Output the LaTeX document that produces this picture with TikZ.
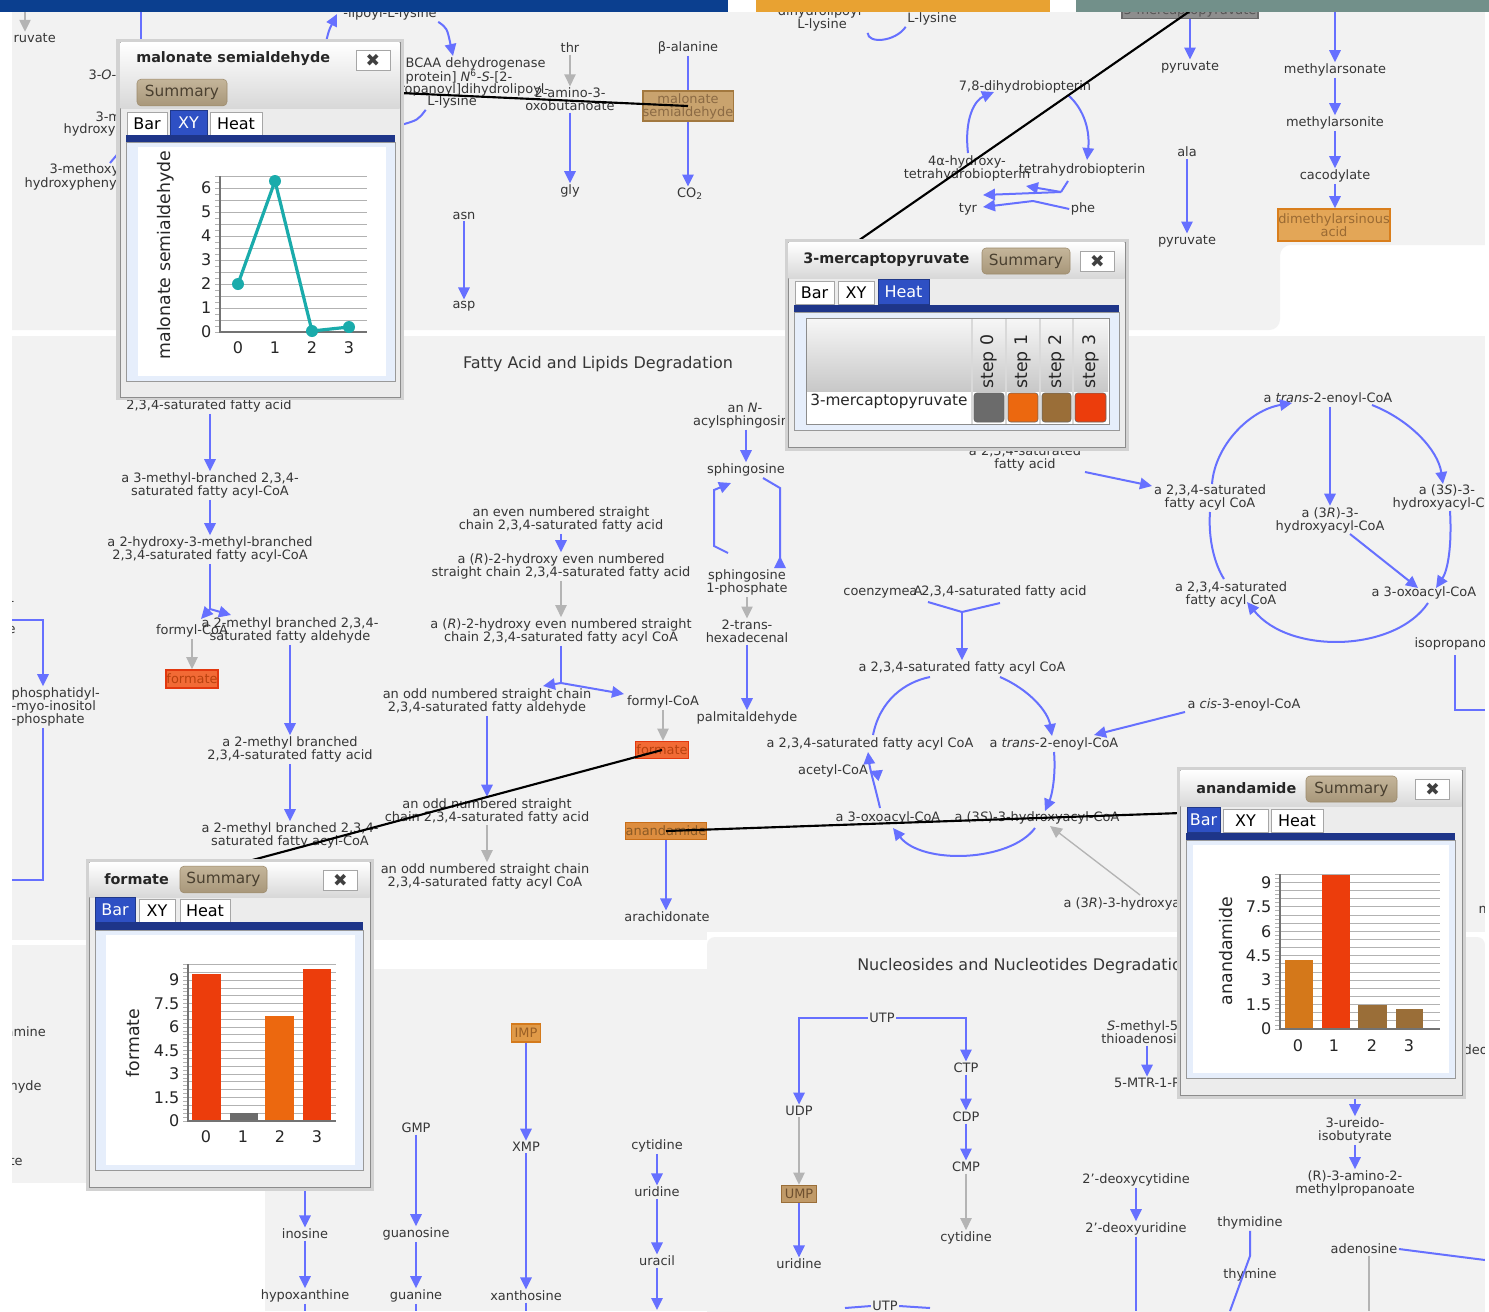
\documentclass[tikz,border=0pt]{standalone}
\usepackage{fontspec}
\setmainfont{DejaVu Sans}
\usetikzlibrary{arrows.meta}
\definecolor{bgc}{HTML}{F2F2F2}
\definecolor{blc}{HTML}{6670FF}
\definecolor{grc}{HTML}{B4B4B4}
\definecolor{labc}{HTML}{363636}
\definecolor{topblue}{HTML}{0B3F8F}
\definecolor{toporange}{HTML}{E8A232}
\definecolor{topgreen}{HTML}{72908A}
\definecolor{tabblue}{HTML}{2E50C4}
\definecolor{stripe}{HTML}{1E3589}
\definecolor{sumtop}{HTML}{C4B59A}
\definecolor{sumbot}{HTML}{A8977A}
\definecolor{sumbd}{HTML}{9C8A6C}
\definecolor{sumtxt}{HTML}{4A4030}
\definecolor{tealc}{HTML}{1AABAB}
\definecolor{cred}{HTML}{EC3D0C}
\definecolor{corange}{HTML}{EC680F}
\definecolor{cbrown}{HTML}{9A6E38}
\definecolor{cgrey}{HTML}{6B6B6B}
\definecolor{cochre}{HTML}{D4781A}
\definecolor{panelbg}{HTML}{ECECEC}
\definecolor{panelbd}{HTML}{8C8C8C}
\definecolor{shadowc}{HTML}{D2D2D2}
\definecolor{contbg}{HTML}{E6EEFB}
\definecolor{titlebot}{HTML}{D8D8D8}
\definecolor{tantxt}{HTML}{8B6A44}
\definecolor{tanfill}{HTML}{C9A36E}
\definecolor{tanbd}{HTML}{A2783F}
\definecolor{mptxt}{HTML}{555555}
\definecolor{mpfill}{HTML}{8E8E8E}
\definecolor{mpbd}{HTML}{6A6A6A}
\definecolor{dmatxt}{HTML}{9A6A33}
\definecolor{dmafill}{HTML}{E3A657}
\definecolor{dmabd}{HTML}{D97E1C}
\definecolor{fotxt}{HTML}{B8410F}
\definecolor{fofill}{HTML}{F26A35}
\definecolor{fobd}{HTML}{E2380F}
\definecolor{antxt}{HTML}{8B5A25}
\definecolor{anfill}{HTML}{DD8D3F}
\definecolor{anbd}{HTML}{C86E19}
\definecolor{umtxt}{HTML}{6E5030}
\definecolor{umfill}{HTML}{C09A68}
\definecolor{umbd}{HTML}{9A6E38}
\definecolor{imtxt}{HTML}{9A5F25}
\definecolor{imfill}{HTML}{E09A48}
\definecolor{imbd}{HTML}{D47A1C}
\definecolor{hdtop}{HTML}{F6F6F6}
\definecolor{hdbot}{HTML}{C8C8C8}
\begin{document}
\begin{tikzpicture}[x=0.75pt,y=-0.75pt,
 lab/.style={font=\fontsize{9.7}{9.75}\selectfont, text=labc, align=center, inner sep=1pt},
 arr/.style={draw=blc, line width=1.5pt, -{Triangle[length=9pt,width=8.5pt]}},
 rarr/.style={draw=blc, line width=1.5pt, -{Triangle[reversed,length=9pt,width=8.5pt]}},
 bll/.style={draw=blc, line width=1.5pt},
 garr/.style={draw=grc, line width=1pt, -{Triangle[length=9pt,width=8.5pt]}},
 gll/.style={draw=grc, line width=1pt},
 blk/.style={draw=black, line width=1.6pt},
 cbox/.style={lab, line width=1.2pt, inner sep=0pt},
 sectt/.style={font=\fontsize{12}{13}\selectfont, text=labc, inner sep=0pt},
 pttl/.style={font=\fontsize{10.8}{12}\selectfont\bfseries, text=black!85, inner sep=0pt, anchor=west},
 sumb/.style={font=\fontsize{11.5}{12}\selectfont, text=sumtxt, top color=sumtop, bottom color=sumbot, draw=sumbd, rounded corners=3pt, inner sep=0pt},
 closeb/.style={font=\fontsize{13}{14}\selectfont, text=black!75, fill=white, draw=black!35, inner sep=0pt, minimum width=25.5pt, minimum height=15pt},
 tabu/.style={font=\fontsize{12}{13}\selectfont, text=black, fill=white, draw=black!35, inner sep=0pt, minimum height=17.5pt},
 tabsel/.style={font=\fontsize{12}{13}\selectfont, text=white, fill=tabblue, draw=tabblue!70!black, inner sep=0pt, minimum height=19pt},
 dig/.style={font=\fontsize{12}{13}\selectfont, text=black!85, inner sep=1pt},
 axl/.style={font=\fontsize{13}{14}\selectfont, text=black!85, inner sep=0pt, rotate=90},
 gridc/.style={draw=black!30, line width=0.6pt},
 axisc/.style={draw=black!55, line width=0.8pt},
 hdr/.style={font=\fontsize{13}{14}\selectfont, text=black!85, inner sep=0pt, rotate=90, anchor=west},
 rowl/.style={font=\fontsize{11.5}{12}\selectfont, text=black!85, inner sep=0pt, anchor=west}
]
\useasboundingbox (0,0) rectangle (1489,1311);
\fill[white] (0,0) rectangle (1489,1311);
% ---------- background regions
\fill[bgc] (12,12) -- (1485,12) -- (1485,245) [rounded corners=8pt] -- (1280,245) -- (1280,330) [sharp corners] -- (12,330) -- cycle;
\fill[bgc] (12,336) rectangle (1485,932);
\fill[bgc] (12,932) rectangle (707,940);
\fill[bgc] (12,945) rectangle (300,1183);
\fill[bgc] (265,969) rectangle (710,1311);
\fill[bgc, rounded corners=6pt] (707,1320) -- (707,937) -- (1485,937) -- (1485,1320);

% ---------- top region
\node[lab, anchor=west] (truv) at (12,38) {ruvate};
\coordinate (ruvtop) at (25,12);
\draw[garr] (ruvtop) -- (ruvtop |- truv.north);
\coordinate (bv1) at (141,12); \coordinate (bv2) at (141,42);
\draw[bll] (bv1) -- (bv2);
\node[lab, anchor=west] (t3o) at (87,75) {3-\textit{O}-};
\node[lab, anchor=west] (t3m) at (94,117) {3-m};
\node[lab, anchor=west] (t3h) at (62,130) {hydroxy};
\node[lab, anchor=west] (t3me) at (48,170) {3-methoxy};
\node[lab, anchor=west] (t3hp) at (23,184) {hydroxypheny};
\coordinate (sm1) at (110,163); \coordinate (sm2) at (121,150);
\draw[bll] (sm1) -- (sm2);
\node[lab] (tlip) at (390,14) {-lipoyl-L-lysine};
\coordinate (lipa) at (326,42);
\draw[arr] (lipa) .. controls (329,30) .. (337,14);
\node[lab, anchor=west] (tb1) at (404,64) {BCAA dehydrogenase};
\node[lab, anchor=west] (tb2) at (404,77) {protein] \textit{N}\textsuperscript{6}-\textit{S}-[2-};
\node[lab, anchor=west] (tb3) at (398,90) {ropanoyl]dihydrolipoyl-};
\node[lab] (tb4) at (452,102) {L-lysine};
\draw[arr] (tlip.south east) .. controls (447,28) .. (453,56);
\coordinate (lysa) at (401,125);
\draw[bll] (lysa) .. controls (418,120) .. (tb4.south west);
\node[lab] (tthr) at (570,48) {thr};
\node[lab] (tami) at (570,99.5) {2-amino-3-\\oxobutanoate};
\node[lab] (tgly) at (570,191) {gly};
\draw[garr] (tthr.south) -- (tthr.south |- tami.north);
\draw[arr] (tami.south) -- (tami.south |- tgly.north);
\node[lab] (tbal) at (688,48) {β-alanine};
\node[cbox, text=tantxt, fill=tanfill, draw=tanbd, minimum width=66pt, minimum height=22.5pt] (nmal) at (688,106) {malonate\\semialdehyde};
\node[lab] (tco2) at (690,194) {CO\textsubscript{2}};
\draw[bll] (tbal.south) -- (tbal.south |- nmal.north);
\draw[arr] (nmal.south) -- (nmal.south |- tco2.north);
\node[lab] (tasn) at (464,216) {asn};
\node[lab] (tasp) at (464,306) {asp};
\draw[arr] (tasn.south) -- (tasn.south |- tasp.north);
\node[lab] (tdl) at (822,18.5) {dihydrolipoyl-\\L-lysine};
\node[lab] (tll) at (932,19) {L-lysine};
\draw[bll] (tdl.south east) .. controls (868,44) and (895,42) .. (tll.south west);
\node[cbox, text=mptxt, fill=mpfill, draw=mpbd, minimum width=102pt, minimum height=11.25pt] (nmpy) at (1190,11) {3-mercaptopyruvate};
\node[lab] (tpy1) at (1190,67) {pyruvate};
\draw[arr] (nmpy.south -| tpy1) -- (tpy1.north);
\node[lab] (tdhb) at (1025,87) {7,8-dihydrobiopterin};
\node[lab] (t4a) at (967,168.5) {4α-hydroxy-\\tetrahydrobiopterin};
\node[lab] (tthb) at (1082,170) {tetrahydrobiopterin};
\node[lab] (ttyr) at (968,209) {tyr};
\node[lab] (tphe) at (1083,209) {phe};
\draw[arr] (968,153) .. controls (964,118) and (975,100) .. (994,92);
\draw[arr] (1068,95) .. controls (1085,110) and (1090,132) .. (1087,160);
\coordinate (bj1) at (1061,192);
\coordinate (bj2) at (1033,201);
\draw[bll] (1068,181) -- (bj1);
\draw[arr] (bj1) -- (1026,186);
\draw[arr] (bj1) -- (983,195);
\draw[bll] (tphe.west) -- (bj2);
\draw[arr] (bj2) -- (983,207);
\node[lab] (tala) at (1187,152) {ala};
\node[lab] (tpy2) at (1187,241) {pyruvate};
\draw[arr] (tala.south) -- (tala.south |- tpy2.north);
\coordinate (masa) at (1335,12);
\node[lab] (tmas) at (1335,70) {methylarsonate};
\node[lab] (tmit) at (1335,123) {methylarsonite};
\node[lab] (tcac) at (1335,176) {cacodylate};
\node[cbox, text=dmatxt, fill=dmafill, draw=dmabd, minimum width=84pt, minimum height=24pt] (ndma) at (1334,225) {dimethylarsinous\\acid};
\draw[arr] (masa) -- (masa |- tmas.north);
\draw[arr] (tmas.south) -- (tmas.south |- tmit.north);
\draw[arr] (tmit.south) -- (tmit.south |- tcac.north);
\draw[arr] (tcac.south) -- (tcac.south |- ndma.north);

% ---------- fatty acid region
\node[sectt] (sec1) at (598,364) {Fatty Acid and Lipids Degradation};
\node[lab] (f1) at (209,406) {2,3,4-saturated fatty acid};
\node[lab] (f2) at (210,485.5) {a 3-methyl-branched 2,3,4-\\saturated fatty acyl-CoA};
\node[lab] (f3) at (210,549.5) {a 2-hydroxy-3-methyl-branched\\2,3,4-saturated fatty acyl-CoA};
\node[lab] (f4) at (192,631) {formyl-CoA};
\node[cbox, text=fotxt, fill=fofill, draw=fobd, minimum width=39pt, minimum height=13.5pt] (f5) at (192,679) {formate};
\node[lab] (f6) at (290,630.5) {a 2-methyl branched 2,3,4-\\saturated fatty aldehyde};
\node[lab] (f7) at (290,749.5) {a 2-methyl branched\\2,3,4-saturated fatty acid};
\node[lab] (f8) at (290,835.5) {a 2-methyl branched 2,3,4-\\saturated fatty acyl-CoA};
\draw[arr] (f1.south -| f2) -- (f2.north);
\draw[arr] (f2.south) -- (f3.north);
\coordinate (fj) at (210,609);
\draw[bll] (f3.south) -- (fj);
\draw[arr] (fj) -- (201,619);
\draw[arr] (fj) -- (231,615);
\draw[garr] (f4.south) -- (f4.south |- f5.north);
\draw[arr] (f6.south) -- (f6.south |- f7.north);
\draw[arr] (f7.south) -- (f7.south |- f8.north);
\node[lab, anchor=west] (lm1) at (8,603) {-};
\node[lab, anchor=west] (lm2) at (6,630) {e};
\node[lab, anchor=west, align=left] (lpi) at (10,707) {phosphatidyl-\\-myo-inositol\\-phosphate};
\coordinate (lp1) at (12,620); \coordinate (lp2) at (43,620);
\draw[arr] (lp1) -- (lp2) -- (lp2 |- lpi.north);
\coordinate (lp3) at (43,880); \coordinate (lp4) at (12,880);
\draw[bll] (lpi.south -| lp2) -- (lp3) -- (lp4);
\node[lab] (g1) at (561,519.5) {an even numbered straight\\chain 2,3,4-saturated fatty acid};
\node[lab] (g2) at (561,566.5) {a (\textit{R})-2-hydroxy even numbered\\straight chain 2,3,4-saturated fatty acid};
\node[lab] (g3) at (561,631.5) {a (\textit{R})-2-hydroxy even numbered straight\\chain 2,3,4-saturated fatty acyl CoA};
\node[lab] (g4) at (487,701.5) {an odd numbered straight chain\\2,3,4-saturated fatty aldehyde};
\node[lab] (g5) at (663,702) {formyl-CoA};
\node[cbox, text=fotxt, fill=fofill, draw=fobd, minimum width=39.75pt, minimum height=12.75pt] (g6) at (662,750) {formate};
\node[lab] (g7) at (487,811) {an odd numbered straight\\chain 2,3,4-saturated fatty acid};
\node[lab] (g8) at (485,876.5) {an odd numbered straight chain\\2,3,4-saturated fatty acyl CoA};
\node[cbox, text=antxt, fill=anfill, draw=anbd, minimum width=59.25pt, minimum height=12.75pt] (g9) at (666,831) {anandamide};
\node[lab] (g10) at (667,917) {arachidonate};
\draw[arr] (g1.south) -- (g2.north);
\draw[garr] (g2.south) -- (g3.north);
\coordinate (gj) at (561,683);
\draw[bll] (g3.south) -- (gj);
\draw[arr] (gj) -- (543,686);
\draw[arr] (gj) -- (624,694);
\draw[garr] (g5.south) -- (g5.south |- g6.north);
\draw[arr] (g4.south) -- (g4.south |- g7.north);
\draw[garr] (g7.south) -- (g7.south |- g8.north);
\draw[arr] (g9.south) -- (g9.south |- g10.north);
\node[lab] (s1) at (745,415.5) {an \textit{N}-\\acylsphingosine};
\node[lab] (s2) at (746,470) {sphingosine};
\node[lab] (s3) at (747,582.5) {sphingosine\\1-phosphate};
\node[lab] (s4) at (747,631.5) {2-trans-\\hexadecenal};
\node[lab] (s5) at (747,718) {palmitaldehyde};
\draw[arr] (s1.south -| s2) -- (s2.north);
\coordinate (sa) at (714,546); \coordinate (sb) at (714,490);
\coordinate (s3a) at (728,553);
\draw[arr] (s3a) -- (sa) -- (sb) -- (731,483);
\coordinate (sc) at (780,488); \coordinate (sd) at (780,568);
\coordinate (s2a) at (763,478);
\draw[rarr] (s2a) -- (sc) -- (sd);
\draw[garr] (s3.south) -- (s3.south |- s4.north);
\draw[arr] (s4.south) -- (s4.south |- s5.north);
\node[lab] (r1) at (1025,458.5) {a 2,3,4-saturated\\fatty acid};
\node[lab] (r2) at (1210,497.5) {a 2,3,4-saturated\\fatty acyl CoA};
\node[lab] (r3) at (1328,399) {a \textit{trans}-2-enoyl-CoA};
\node[lab] (r4) at (1447,497.5) {a (3\textit{S})-3-\\hydroxyacyl-CoA};
\node[lab] (r5) at (1330,520) {a (3\textit{R})-3-\\hydroxyacyl-CoA};
\node[lab] (r6) at (1231,594.5) {a 2,3,4-saturated\\fatty acyl CoA};
\node[lab, anchor=west] (r7) at (1370,593) {a 3-oxoacyl-CoA};
\node[lab, anchor=west] (r8) at (1413,644) {isopropanol};
\draw[arr] (1085,472) -- (1152,486);
\draw[arr] (1212,484) .. controls (1215,445) and (1250,410) .. (1292,403);
\draw[arr] (1372,405) .. controls (1410,420) and (1438,450) .. (1443,484);
\draw[arr] (r3.south -| r5) -- (r5.north);
\draw[arr] (1450,511) .. controls (1452,545) and (1448,570) .. (1436,588);
\draw[arr] (1350,534) -- (1418,588);
\draw[arr] (1428,603) .. controls (1395,652) and (1290,655) .. (1247,602);
\draw[bll] (1210,512) .. controls (1208,540) and (1215,565) .. (1224,579);
\coordinate (ip1) at (1455,655); \coordinate (ip2) at (1455,710); \coordinate (ip3) at (1485,710);
\draw[bll] (ip1) -- (ip2) -- (ip3);
\node[lab] (c1) at (883,592) {coenzyme A};
\node[lab] (c2) at (998,592) {a 2,3,4-saturated fatty acid};
\node[lab] (c3) at (962,668) {a 2,3,4-saturated fatty acyl CoA};
\node[lab] (c4) at (870,744) {a 2,3,4-saturated fatty acyl CoA};
\node[lab] (c5) at (1054,744) {a \textit{trans}-2-enoyl-CoA};
\node[lab] (c6) at (833,771) {acetyl-CoA};
\node[lab] (c7) at (888,818) {a 3-oxoacyl-CoA};
\node[lab] (c8) at (1037,818) {a (3\textit{S})-3-hydroxyacyl-CoA};
\node[lab] (c9) at (1244,705) {a \textit{cis}-3-enoyl-CoA};
\node[lab, anchor=west] (c10) at (1062,904) {a (3\textit{R})-3-hydroxyacyl-CoA};
\node[lab, anchor=west] (c11) at (1477,910) {m};
\coordinate (cj) at (962,612);
\draw[bll] (928,602) -- (cj) -- (1000,603);
\draw[arr] (cj) -- (c3.north);
\draw[arr] (1000,677) .. controls (1030,690) and (1048,712) .. (1052,736);
\draw[arr] (1054,752) .. controls (1056,775) and (1052,795) .. (1045,811);
\draw[arr] (1035,828) .. controls (1010,862) and (922,865) .. (893,828);
\draw[arr] (880,808) .. controls (876,790) and (870,770) .. (868,752);
\draw[arr] (872,772) -- (c6.east);
\draw[bll] (873,735) .. controls (880,700) and (905,682) .. (930,677);
\coordinate (c9a) at (1185,712);
\draw[arr] (c9a) -- (1094,735);
\coordinate (c10a) at (1140,895);
\draw[garr] (c10a) -- (1050,826);

% ---------- nucleosides region
\node[sectt, anchor=west] (sec2) at (857,966) {Nucleosides and Nucleotides Degradation};
\node[lab, anchor=west] (lx1) at (4,1032) {amine};
\node[lab, anchor=west] (lx2) at (8,1087) {hyde};
\node[lab, anchor=west] (lx3) at (8,1161) {te};
\node[lab] (u1) at (882,1018) {UTP};
\node[lab] (u2) at (799,1111) {UDP};
\node[cbox, text=umtxt, fill=umfill, draw=umbd, minimum width=26.25pt, minimum height=12.75pt] (u3) at (799,1194) {UMP};
\node[lab] (u4) at (799,1264) {uridine};
\node[lab] (u5) at (966,1068) {CTP};
\node[lab] (u6) at (966,1117) {CDP};
\node[lab] (u7) at (966,1167) {CMP};
\node[lab] (u8) at (966,1238) {cytidine};
\draw[arr] (u1.west) -| (u2.north);
\draw[arr] (u1.east) -| (u5.north);
\draw[garr] (u2.south) -- (u2.south |- u3.north);
\draw[arr] (u3.south) -- (u3.south |- u4.north);
\draw[arr] (u5.south) -- (u6.north);
\draw[arr] (u6.south) -- (u7.north);
\draw[garr] (u7.south) -- (u8.north);
\node[cbox, text=imtxt, fill=imfill, draw=imbd, minimum width=21.75pt, minimum height=13.5pt] (i1) at (526,1033) {IMP};
\node[lab] (i2) at (526,1147) {XMP};
\node[lab] (i3) at (526,1296) {xanthosine};
\draw[arr] (i1.south) -- (i2.north);
\draw[arr] (i2.south) -- (i3.north);
\coordinate (ie) at (526,1311);
\draw[bll] (i3.south) -- (ie);
\node[lab] (gm1) at (416,1128) {GMP};
\node[lab] (gm2) at (416,1234) {guanosine};
\node[lab] (gm3) at (416,1296) {guanine};
\draw[arr] (gm1.south) -- (gm2.north);
\draw[arr] (gm2.south) -- (gm3.north);
\coordinate (gme) at (416,1311);
\draw[bll] (gm3.south) -- (gme);
\coordinate (ins0) at (305,1187);
\node[lab] (in1) at (305,1234) {inosine};
\node[lab] (in2) at (305,1296) {hypoxanthine};
\draw[arr] (ins0) -- (in1.north);
\draw[arr] (in1.south) -- (in2.north);
\coordinate (ine) at (305,1311);
\draw[bll] (in2.south) -- (ine);
\node[lab] (cy1) at (657,1146) {cytidine};
\node[lab] (cy2) at (657,1192) {uridine};
\node[lab] (cy3) at (657,1261) {uracil};
\draw[arr] (cy1.south) -- (cy2.north);
\draw[arr] (cy2.south) -- (cy3.north);
\coordinate (cye) at (657,1310);
\draw[arr] (cy3.south) -- (cye);
\node[lab] (m1) at (1147,1032.5) {\textit{S}-methyl-5'-\\thioadenosine};
\node[lab] (m2) at (1147,1083) {5-MTR-1-P};
\draw[arr] (m1.south) -- (m2.north);
\coordinate (ur0) at (1355,1095);
\node[lab] (ur1) at (1355,1130.5) {3-ureido-\\isobutyrate};
\node[lab] (ur2) at (1355,1183.5) {(R)-3-amino-2-\\methylpropanoate};
\draw[arr] (ur0) -- (ur1.north);
\draw[arr] (ur1.south) -- (ur2.north);
\node[lab] (d1) at (1136,1180) {2'-deoxycytidine};
\node[lab] (d2) at (1136,1229) {2'-deoxyuridine};
\draw[arr] (d1.south) -- (d2.north);
\coordinate (de) at (1136,1311);
\draw[bll] (d2.south) -- (de);
\node[lab] (th1) at (1250,1223) {thymidine};
\node[lab] (th2) at (1250,1275) {thymine};
\coordinate (tha) at (1250,1256); \coordinate (thb) at (1230,1311);
\draw[bll] (th1.south) -- (tha) -- (thb);
\node[lab] (ad) at (1364,1249) {adenosine};
\coordinate (ada) at (1430,1253); \coordinate (adb) at (1485,1260);
\draw[bll] (ad.east) -- (ada) -- (adb);
\coordinate (adc) at (1369,1311);
\draw[gll] (ad.south -| adc) -- (adc);
\node[lab, anchor=west] (dx) at (1462,1050) {deox};
\node[lab] (ub) at (885,1306) {UTP};
\coordinate (uba) at (845,1308); \coordinate (ubb) at (930,1308);
\draw[bll] (uba) -- (ub.west); \draw[bll] (ub.east) -- (ubb);

% ---------- black highlight connectors
\coordinate (pm) at (400,93);
\coordinate (pc) at (855,243);
\coordinate (pf) at (245,862);
\coordinate (pa) at (1181,813);
\draw[blk] (pm) -- (nmal.center);
\draw[blk] (pc) -- (nmpy.center);
\draw[blk] (g6.center) -- (pf);
\draw[blk] (g9.center) -- (pa);

% ---------- margins
\fill[white] (0,12) rectangle (12,1311);
\fill[white] (1485,12) rectangle (1489,1311);

% ---------- panel: malonate semialdehyde
\fill[shadowc] (116,39) rectangle (404,400);
\filldraw[fill=panelbg, draw=panelbd] (120,42) rectangle (400,397);
\shade[top color=white, bottom color=titlebot] (120.5,42.5) rectangle (399.5,108);
\node[pttl] (mpt) at (136,59) {malonate semialdehyde};
\node[closeb] (mpx) at (373,60) {✖};
\node[sumb, minimum width=67.5pt, minimum height=20pt] (mps) at (182,92.5) {Summary};
\node[tabu, minimum width=30pt] (mpb) at (147,123.5) {Bar};
\node[tabsel, minimum width=27.75pt] (mpy) at (188.5,122.5) {XY};
\node[tabu, minimum width=39pt] (mph) at (236,123.5) {Heat};
\fill[stripe] (126,135) rectangle (395,142);
\filldraw[fill=contbg, draw=black!40] (126,142) rectangle (395,381);
\fill[white] (138,147) rectangle (386,376);
\node[axl] (mpl) at (166,255) {malonate semialdehyde};
\foreach \k in {0,...,13} \draw[gridc] (220,{332-12*\k}) -- (367,{332-12*\k});
\foreach \k in {0,...,26} \draw[gridc] (215,{332-6*\k}) -- (220,{332-6*\k});
\draw[axisc] (220,176) -- (220,332) -- (367,332);
\foreach \v in {0,...,6} \node[dig, anchor=east] at (213,{332-24*\v}) {\v};
\foreach \i in {0,...,3} \node[dig] at ({238+37*\i},348) {\i};
\draw[tealc, line width=2.4pt, line join=round] (238,284) -- (275,181) -- (312,331) -- (349,327);
\foreach \p in {(238,284),(275,181),(312,331),(349,327)} \fill[tealc] \p circle (4.5pt);

% ---------- panel: 3-mercaptopyruvate
\fill[shadowc] (785,239) rectangle (1129,451);
\filldraw[fill=panelbg, draw=panelbd] (788,242) rectangle (1125,447);
\shade[top color=white, bottom color=titlebot] (788.5,242.5) rectangle (1124.5,278);
\node[pttl] (cpt) at (803,260) {3-mercaptopyruvate};
\node[sumb, minimum width=66pt, minimum height=19.5pt] (cps) at (1026,261) {Summary};
\node[closeb] (cpx) at (1097.5,261) {✖};
\node[tabu, minimum width=29.25pt] (cpb) at (814.5,293) {Bar};
\node[tabu, minimum width=27pt] (cpy) at (856,293) {XY};
\node[tabsel, minimum width=38.25pt] (cph) at (903.5,292) {Heat};
\fill[stripe] (794,305) rectangle (1119,312);
\filldraw[fill=contbg, draw=black!40] (794,312) rectangle (1119,430);
\filldraw[fill=white, draw=black!45] (806,318) rectangle (1109,424);
\shade[top color=hdtop, bottom color=hdbot] (807,319) rectangle (1108,391);
\foreach \xx in {972,1006,1040,1073} \draw[black!15, line width=0.8pt] (\xx,319) -- (\xx,424);
\node[hdr] (cs0) at (989,389) {step 0};
\node[hdr] (cs1) at (1023,389) {step 1};
\node[hdr] (cs2) at (1057,389) {step 2};
\node[hdr] (cs3) at (1091,389) {step 3};
\node[rowl] (cpr) at (810,401) {3-mercaptopyruvate};
\filldraw[fill=cgrey, draw=black!60, rounded corners=2pt] (974,393) rectangle (1004,422);
\filldraw[fill=corange, draw=black!60, rounded corners=2pt] (1008,393) rectangle (1038,422);
\filldraw[fill=cbrown, draw=black!60, rounded corners=2pt] (1042,393) rectangle (1071,422);
\filldraw[fill=cred, draw=black!60, rounded corners=2pt] (1075,393) rectangle (1106,422);

% ---------- panel: anandamide
\fill[shadowc] (1177,767) rectangle (1466,1099);
\filldraw[fill=panelbg, draw=panelbd] (1180,770) rectangle (1462,1095);
\shade[top color=white, bottom color=titlebot] (1180.5,770.5) rectangle (1461.5,806);
\node[pttl] (apt) at (1196,788) {anandamide};
\node[sumb, minimum width=68.25pt, minimum height=19.5pt] (aps) at (1351.5,789) {Summary};
\node[closeb] (apx) at (1432.5,789.5) {✖};
\node[tabsel, minimum width=24.75pt] (apb) at (1203.5,820) {Bar};
\node[tabu, minimum width=33.75pt] (apy) at (1245.5,821) {XY};
\node[tabu, minimum width=39pt] (aph) at (1297,821) {Heat};
\fill[stripe] (1186,833) rectangle (1455,840);
\filldraw[fill=contbg, draw=black!40] (1186,840) rectangle (1455,1078);
\fill[white] (1193,845) rectangle (1449,1073);
\node[axl] (apl) at (1226,951) {anandamide};
\foreach \k in {0,...,19} \draw[gridc] (1280,{1029-8.15*\k}) -- (1440,{1029-8.15*\k});
\foreach \k in {0,...,38} \draw[gridc] (1275,{1029-4.075*\k}) -- (1280,{1029-4.075*\k});
\fill[cochre] (1285,1029) rectangle (1313,960);
\fill[cred] (1322,1029) rectangle (1350,875);
\fill[cbrown] (1358,1029) rectangle (1387,1005);
\fill[cbrown] (1396,1029) rectangle (1423,1009);
\draw[axisc] (1280,874) -- (1280,1029) -- (1440,1029);
\foreach \v in {0,1.5,3,4.5,6,7.5,9} \node[dig, anchor=east] at (1273,{1029-16.3*\v}) {\v};
\foreach \xx/\i in {1298/0,1334/1,1372/2,1409/3} \node[dig] at (\xx,1046) {\i};

% ---------- panel: formate
\fill[shadowc] (86,859) rectangle (374,1191);
\filldraw[fill=panelbg, draw=panelbd] (89,862) rectangle (370,1187);
\shade[top color=white, bottom color=titlebot] (89.5,862.5) rectangle (369.5,897);
\node[pttl] (fpt) at (104,879) {formate};
\node[sumb, minimum width=65.25pt, minimum height=20pt] (fps) at (223.5,879.5) {Summary};
\node[closeb] (fpx) at (340.5,880) {✖};
\node[tabsel, minimum width=30pt] (fpb) at (115,910) {Bar};
\node[tabu, minimum width=27pt] (fpy) at (157,911) {XY};
\node[tabu, minimum width=37.5pt] (fph) at (205,911) {Heat};
\fill[stripe] (95,922) rectangle (363,930);
\filldraw[fill=contbg, draw=black!40] (95,930) rectangle (363,1170);
\fill[white] (106,935) rectangle (355,1165);
\node[axl] (fpl) at (133,1043) {formate};
\foreach \k in {0,...,20} \draw[gridc] (188,{1121-7.83*\k}) -- (336,{1121-7.83*\k});
\foreach \k in {0,...,40} \draw[gridc] (183,{1121-3.915*\k}) -- (188,{1121-3.915*\k});
\fill[cred] (192,1121) rectangle (221,974);
\fill[cgrey] (230,1121) rectangle (258,1113);
\fill[corange] (265,1121) rectangle (294,1016);
\fill[cred] (303,1121) rectangle (331,969);
\draw[axisc] (188,964) -- (188,1121) -- (336,1121);
\foreach \v in {0,1.5,3,4.5,6,7.5,9} \node[dig, anchor=east] at (181,{1121-15.67*\v}) {\v};
\foreach \xx/\i in {206/0,243/1,280/2,317/3} \node[dig] at (\xx,1137) {\i};

% ---------- top bars
\fill[topblue] (0,0) rectangle (728,12);
\fill[toporange] (756,0) rectangle (1050,12);
\fill[topgreen] (1076,0) rectangle (1489,12);
\end{tikzpicture}
\end{document}
